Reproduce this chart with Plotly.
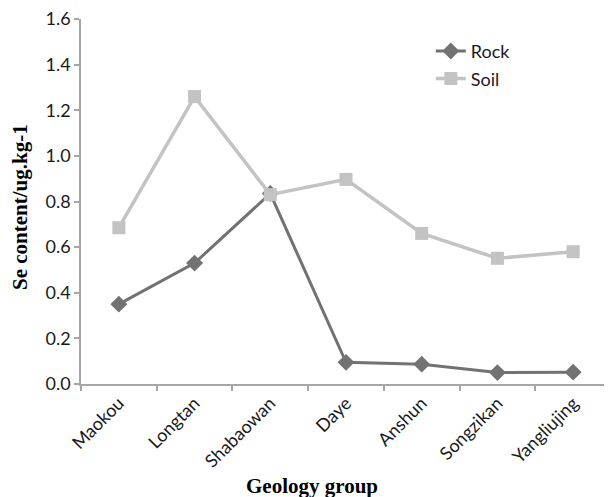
import plotly.graph_objects as go

groups = ["Maokou", "Longtan", "Shabaowan", "Daye", "Anshun", "Songzikan", "Yangliujing"]
rock = [0.35, 0.53, 0.835, 0.095, 0.087, 0.05, 0.052]
soil = [0.685, 1.26, 0.83, 0.897, 0.66, 0.551, 0.58]
y_ticks = [0.0, 0.2, 0.4, 0.6, 0.8, 1.0, 1.2, 1.4, 1.6]

AX = "#a6a6a6"
TICKFONT = dict(family="Lato, Open Sans, sans-serif", size=18, color="#1a1a1a")
TITLEFONT = dict(family="Liberation Serif, Times New Roman, serif", size=21, color="#000000")

fig = go.Figure()
fig.add_trace(go.Scatter(
    x=groups, y=rock, name="Rock", mode="lines+markers", legendgroup="r",
    line=dict(color="#727272", width=3),
    marker=dict(symbol="diamond", size=13, color="#727272"),
))
fig.add_trace(go.Scatter(
    x=groups, y=soil, name="Soil", mode="lines+markers", legendgroup="s",
    line=dict(color="#c3c3c3", width=3.5),
    marker=dict(symbol="square", size=13, color="#c3c3c3"),
))

# the page body adds an 8px offset, so the figure is sized to compensate
fig.update_layout(
    width=604, height=489,
    margin=dict(l=73, r=1, t=11, b=113),
    paper_bgcolor="white", plot_bgcolor="white",
    showlegend=True,
    legend=dict(x=0.66, y=0.962, xanchor="left", yanchor="top",
                font=TICKFONT, bgcolor="rgba(0,0,0,0)",
                tracegroupgap=1),
    xaxis=dict(
        type="category", range=[-0.5, 6.5], automargin=False,
        showline=True, linecolor=AX, linewidth=1.5,
        ticks="outside", tickson="boundaries", ticklen=5, tickcolor=AX, tickwidth=1.5,
        tickangle=-45, tickfont=TICKFONT, showgrid=False, zeroline=False,
        ticklabeloverflow="allow",
    ),
    yaxis=dict(
        range=[0, 1.6], tickvals=y_ticks, ticktext=[f"{v:.1f}" for v in y_ticks],
        automargin=False, ticklabeloverflow="allow",
        showline=True, linecolor=AX, linewidth=1.5,
        ticks="outside", ticklen=5, tickcolor=AX, tickwidth=1.5,
        tickfont=TICKFONT, showgrid=False, zeroline=False,
    ),
    annotations=[
        dict(text="<b>Geology group</b>", xref="paper", yref="paper",
             x=0.435, y=-0.28, xanchor="center", yanchor="middle",
             showarrow=False, font=TITLEFONT),
        dict(text="<b>Se content/ug.kg-1</b>", xref="paper", yref="paper",
             x=-0.115, y=0.485, xanchor="center", yanchor="middle",
             textangle=-90, showarrow=False, font=TITLEFONT),
    ],
)

fig.write_html("out.html")
